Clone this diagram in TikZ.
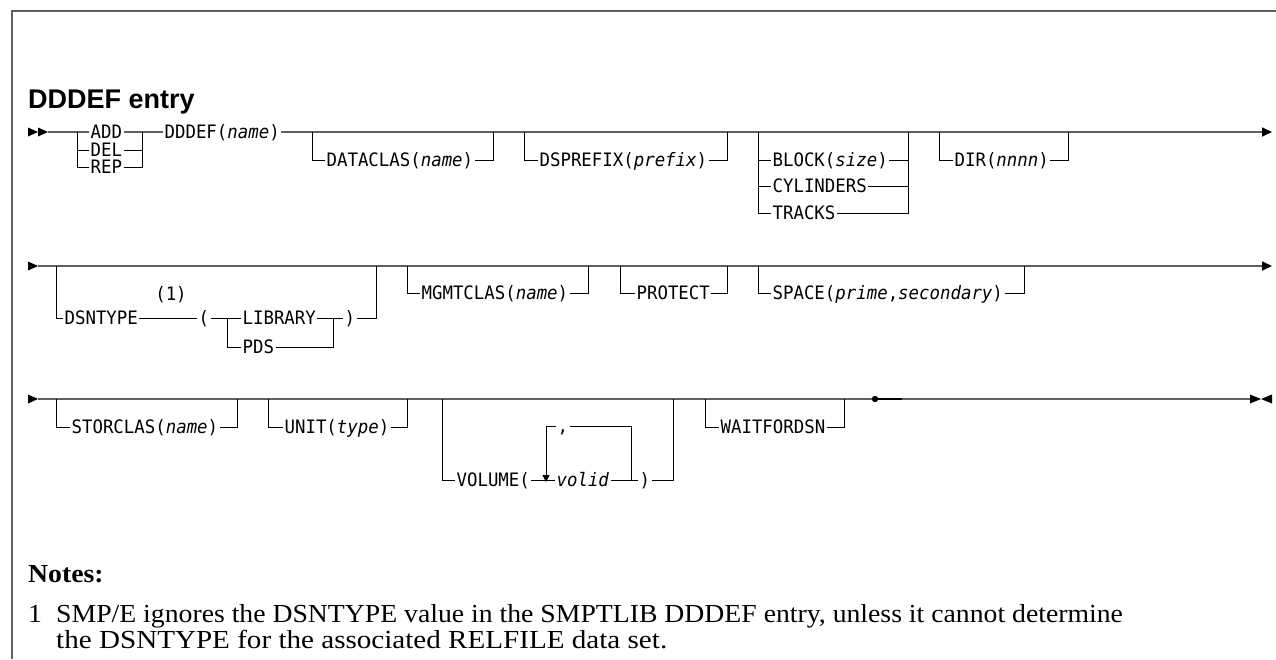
\documentclass[tikz,border=0pt]{standalone}
\usepackage{fontspec}
\setmainfont{Liberation Serif}
\setsansfont{Liberation Sans}
\setmonofont{DejaVu Sans Mono}
\usetikzlibrary{arrows.meta}

\definecolor{railgray}{HTML}{5F5F5F}
\tikzset{
  rail/.style={draw=railgray, line width=1.6pt},
  branch/.style={draw=black, line width=1pt},
  kw/.style={font=\ttfamily\fontsize{18.5}{21}\selectfont, xscale=0.94, inner xsep=1.5pt, inner ysep=0pt,
    text height=13.5pt, text depth=0pt, anchor=west},
  endtip/.style={-{Triangle[length=10pt,width=9pt,color=black]}},
  notetext/.style={anchor=base west, inner sep=0pt, xscale=1.066, font=\fontsize{26}{30}\selectfont},
}

\begin{document}
\begin{tikzpicture}[x=1pt,y=-1pt]
    \useasboundingbox (0,0) rectangle (1276,659);

    % Frame
    \draw[railgray, line width=1.2pt] (12,659) -- (12,11) -- (1276,11);

    % Title
    \node[font=\sffamily\bfseries\fontsize{27}{30}\selectfont, anchor=base west, inner sep=0pt] (title) at (28,108) {DDDEF entry};

    % Row 1
    \foreach \n/\x in {start1/48, a1/77, a2/142, dc1/312, dc2/493, dp1/524, dp2/727, bl1/758, bl2/908, dr1/939, dr2/1068, end1/1272}
      \coordinate (\n) at (\x,132);
    \fill (28,127.5) -- (38,132) -- (28,136.5) -- cycle;
    \fill (38,127.5) -- (48,132) -- (38,136.5) -- cycle;

    \node[kw] (add) at (89,132) {ADD};
    \node[kw] (del) at (89,150) {DEL};
    \node[kw] (rep) at (89,167) {REP};
    \node[kw] (dddef) at (163,132) {DDDEF(\textit{name})};
    \node[kw] (dataclas) at (325,160) {DATACLAS(\textit{name})};
    \node[kw] (dsprefix) at (538,160) {DSPREFIX(\textit{prefix})};
    \node[kw] (block) at (771,160) {BLOCK(\textit{size})};
    \node[kw] (cylinders) at (771,186) {CYLINDERS};
    \node[kw] (tracks) at (771,213) {TRACKS};
    \node[kw] (dir) at (953,160) {DIR(\textit{nnnn})};

    \draw[rail] (start1) -- (add.west);
    \draw[rail] (add.east) -- (dddef.west);
    \draw[rail, endtip] (dddef.east) -- (end1);

    \draw[branch] (a1) |- (rep.west);
    \draw[branch] (a1 |- del) -- (del.west);
    \draw[branch] (a2) |- (rep.east);
    \draw[branch] (del.east) -- (a2 |- del);

    \draw[branch] (dc1) |- (dataclas.west);
    \draw[branch] (dataclas.east) -| (dc2);
    \draw[branch] (dp1) |- (dsprefix.west);
    \draw[branch] (dsprefix.east) -| (dp2);

    \draw[branch] (bl1) |- (tracks.west);
    \draw[branch] (bl1 |- block) -- (block.west);
    \draw[branch] (bl1 |- cylinders) -- (cylinders.west);
    \draw[branch] (bl2) |- (tracks.east);
    \draw[branch] (block.east) -- (bl2 |- block);
    \draw[branch] (cylinders.east) -- (bl2 |- cylinders);

    \draw[branch] (dr1) |- (dir.west);
    \draw[branch] (dir.east) -| (dr2);

    % Row 2
    \foreach \n/\x in {start2/38, ds1/56, ds2/376, mg1/407, mg2/588, pr1/620, pr2/727, sp1/758, sp2/1024, end2/1272}
      \coordinate (\n) at (\x,266);
    \coordinate (lb1) at (227,318);
    \coordinate (lb2) at (333,318);
    \fill (28,261.5) -- (38,266) -- (28,270.5) -- cycle;
    \draw[rail, endtip] (start2) -- (end2);

    \node[kw] (dsntype) at (63,318) {DSNTYPE};
    \node[kw, anchor=center] (note1) at (171,294) {(1)};
    \node[kw] (lpar) at (197,318) {(};
    \node[kw] (library) at (241,318) {LIBRARY};
    \node[kw] (pds) at (241,347) {PDS};
    \node[kw] (rpar) at (343,318) {)};
    \node[kw] (mgmtclas) at (420,293) {MGMTCLAS(\textit{name})};
    \node[kw] (protect) at (635,293) {PROTECT};
    \node[kw] (space) at (771,293) {SPACE(\textit{prime},\textit{secondary})};

    \draw[branch] (ds1) |- (dsntype.west);
    \draw[branch] (dsntype.east) -- (lpar.west);
    \draw[branch] (lpar.east) -- (library.west);
    \draw[branch] (library.east) -- (rpar.west);
    \draw[branch] (rpar.east) -| (ds2);
    \draw[branch] (lb1) |- (pds.west);
    \draw[branch] (pds.east) -| (lb2);

    \draw[branch] (mg1) |- (mgmtclas.west);
    \draw[branch] (mgmtclas.east) -| (mg2);
    \draw[branch] (pr1) |- (protect.west);
    \draw[branch] (protect.east) -| (pr2);
    \draw[branch] (sp1) |- (space.west);
    \draw[branch] (space.east) -| (sp2);

    % Row 3
    \foreach \n/\x in {start3/38, st1/56, st2/237, un1/268, un2/407, vo1/442, vo2/673, wt1/705, wt2/844, dot/875, blk/902, end3/1250}
      \coordinate (\n) at (\x,399);
    \coordinate (lp1) at (546,480);
    \coordinate (lp2) at (631,480);
    \fill (28,394.5) -- (38,399) -- (28,403.5) -- cycle;
    \draw[rail] (start3) -- (dot);
    \draw[rail] (blk) -- (end3);
    \draw[line width=1.8pt] (dot) -- (blk);
    \fill (dot) circle (3.2);
    \fill (1250,394.5) -- (1261,399) -- (1250,403.5) -- cycle;
    \fill (1272,394.5) -- (1261,399) -- (1272,403.5) -- cycle;

    \node[kw] (storclas) at (70,427) {STORCLAS(\textit{name})};
    \node[kw] (unit) at (283,427) {UNIT(\textit{type})};
    \node[kw] (volume) at (455,480) {VOLUME(};
    \node[kw] (volid) at (555,480) {\textit{volid}};
    \node[kw] (rpar3) at (638,480) {)};
    \node[kw] (comma) at (556,426) {,};
    \node[kw] (waitfordsn) at (719,427) {WAITFORDSN};

    \draw[branch] (st1) |- (storclas.west);
    \draw[branch] (storclas.east) -| (st2);
    \draw[branch] (un1) |- (unit.west);
    \draw[branch] (unit.east) -| (un2);

    \draw[branch] (vo1) |- (volume.west);
    \draw[branch] (volume.east) -- (volid.west);
    \draw[branch] (volid.east) -- (rpar3.west);
    \draw[branch] (rpar3.east) -| (vo2);
    \draw[branch] (lp2) |- (comma.east);
    \draw[branch, -{Triangle[length=7pt,width=7pt]}] (comma.west) -| ([yshift=-2pt]lp1);

    \draw[branch] (wt1) |- (waitfordsn.west);
    \draw[branch] (waitfordsn.east) -| (wt2);

    % Notes
    \node[notetext, font=\bfseries\fontsize{26}{30}\selectfont] (notes) at (28,582) {Notes:};
    \node[notetext] (fn) at (28,622) {1};
    \node[notetext] (fnline1) at (56,622) {SMP/E ignores the DSNTYPE value in the SMPTLIB DDDEF entry, unless it cannot determine};
    \node[notetext, xscale=1.05] (fnline2) at (56,648) {the DSNTYPE for the associated RELFILE data set.};

\end{tikzpicture}
\end{document}
